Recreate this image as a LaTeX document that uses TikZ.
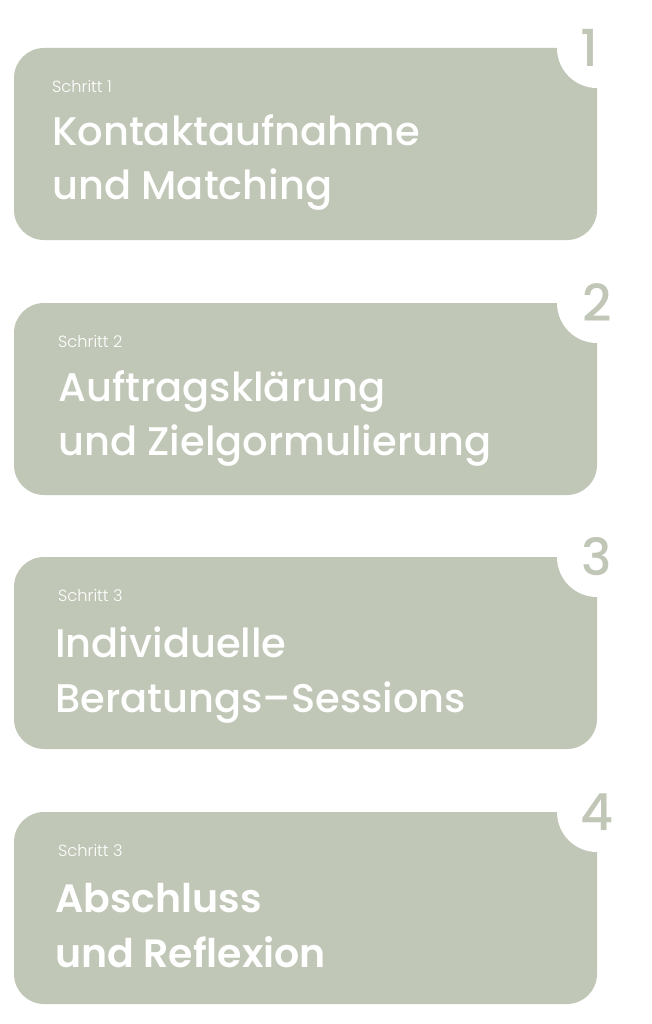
\documentclass[tikz,border=0pt]{standalone}
\usepackage{fontspec}
\setmainfont{Poppins}
\newfontfamily\titlefont{Poppins Medium}
\newfontfamily\boldtitlefont{Poppins SemiBold}
\newfontfamily\lightfont{Poppins Light}
\definecolor{sage}{RGB}{193,199,183}
\begin{document}
\begin{tikzpicture}[x=1pt,y=-1pt,
  card/.style={fill=sage, draw=none, rounded corners=30pt, minimum width=583pt, minimum height=192pt, anchor=north west, inner sep=0pt, outer sep=0pt},
  num/.style={text=sage, font=\titlefont\fontsize{51}{51}\selectfont, inner sep=0pt},
  steplabel/.style={text=white, anchor=base west, inner sep=0pt, font=\lightfont\fontsize{16.2}{16.2}\selectfont},
  titleline/.style={text=white, anchor=base west, inner sep=0pt, font=\titlefont\fontsize{40}{40}\selectfont},
  boldtitleline/.style={titleline, font=\boldtitlefont\fontsize{39.5}{39.5}\selectfont}]
\useasboundingbox (0,0) rectangle (651,1024);
% cards
\node[card] (b1) at (14,48) {};
\node[card] (b2) at (14,303) {};
\node[card] (b3) at (14,557) {};
\node[card] (b4) at (14,812) {};
% notches and numbers
\fill[white] (b1.north east) circle (40pt);
\fill[white] (b2.north east) circle (40pt);
\fill[white] (b3.north east) circle (40pt);
\fill[white] (b4.north east) circle (40pt);
\node[num] (n1) at ([xshift=-8pt]b1.north east) {1};
\node[num] (n2) at (b2.north east) {2};
\node[num] (n3) at (b3.north east) {3};
\node[num] (n4) at (b4.north east) {4};
% texts
\node[steplabel] (s1) at (52,93) {Schritt 1};
\node[titleline] (t1a) at (52,146) {Kontaktaufnahme};
\node[titleline] (t1b) at (52,200) {und Matching};
\node[steplabel] (s2) at (58,347) {Schritt 2};
\node[titleline] (t2a) at (58,401) {Auftragsklärung};
\node[titleline] (t2b) at (58,455) {und Zielgormulierung};
\node[steplabel] (s3) at (58,601) {Schritt 3};
\node[titleline] (t3a) at (55,657) {Individuelle};
\node[titleline] (t3b) at (55,712) {Beratungs–Sessions};
\node[steplabel] (s4) at (58,856) {Schritt 3};
\node[boldtitleline] (t4a) at (55,912) {Abschluss};
\node[boldtitleline] (t4b) at (55,967) {und Reflexion};
\end{tikzpicture}
\end{document}
